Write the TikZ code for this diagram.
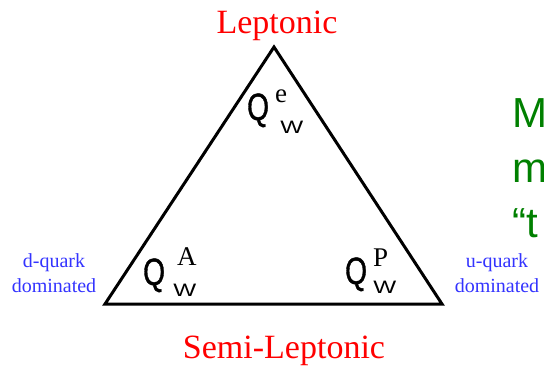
\documentclass[tikz,border=0pt]{standalone}
\usepackage{fontspec}
\setmainfont{Liberation Serif}
\setsansfont{Liberation Sans}
\newfontfamily\qfont[FakeBold=1.2]{Liberation Sans}
\begin{document}
\begin{tikzpicture}[x=1pt,y=-1pt,
  redlab/.style={text=red,font=\fontsize{34}{34}\selectfont,anchor=base,inner sep=0pt},
  bluelab/.style={text=blue!80!white,font=\fontsize{20}{25}\selectfont,align=center,anchor=base,inner sep=0pt},
  greenlab/.style={text=green!50!black,font=\sffamily\fontsize{42}{42}\selectfont,anchor=base west,inner sep=0pt},
  qlab/.style={font=\qfont\fontsize{38}{38}\selectfont,anchor=base west,inner sep=0pt,transform shape,xscale=0.74},
  suplab/.style={font=\fontsize{27}{27}\selectfont,anchor=base west,inner sep=0pt},
  wlab/.style={font=\sffamily\fontsize{18}{18}\selectfont,anchor=base west,inner sep=0pt,transform shape,xscale=1.35},
  tri/.style={line width=3pt,line join=miter}]
\useasboundingbox (0,0) rectangle (544,370);
\clip (0,0) rectangle (544,370);
\coordinate (apex) at (274,47);
\coordinate (left) at (105,304);
\coordinate (right) at (442,304);
\draw[tri] (apex) -- (left) -- (right) -- cycle;
\node[redlab] (lep) at (277,33) {Leptonic};
\node[redlab] (semi) at (284,358) {Semi-Leptonic};
\node[bluelab] (dq) at (54,292) {d-quark\\dominated};
\node[bluelab] (uq) at (497,292) {u-quark\\dominated};
\node[greenlab] (g1) at (512,127) {M};
\node[greenlab] (g2) at (512,182) {m};
\node[greenlab] (g3) at (512,237) {“t};
% Q_W^e
\node[qlab] (qe) at (247,120) {Q};
\node[suplab] (qes) at (275,102) {e};
\node[wlab] (qew) at (280,133) {W};
% Q_W^A
\node[qlab] (qa) at (143,285) {Q};
\node[suplab] (qas) at (177,265) {A};
\node[wlab] (qaw) at (173,296) {W};
% Q_W^P
\node[qlab] (qp) at (345,284) {Q};
\node[suplab] (qps) at (373,266) {P};
\node[wlab] (qpw) at (373,293) {W};
\end{tikzpicture}
\end{document}
